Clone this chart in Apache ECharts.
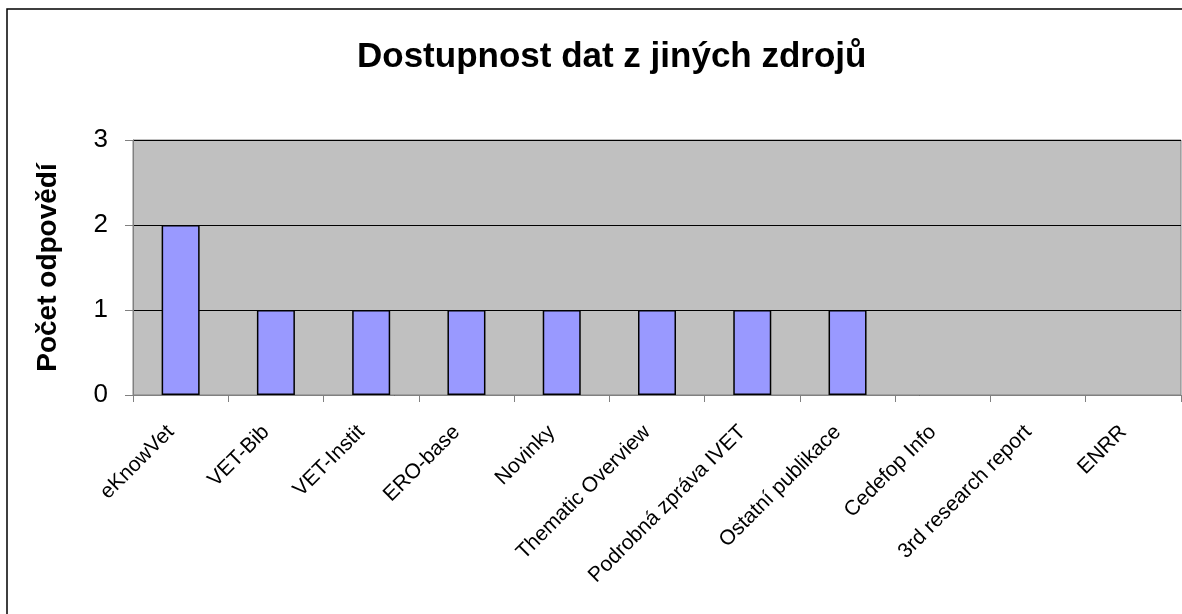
<!DOCTYPE html>
<html>
<head>
<meta charset="utf-8">
<script src="https://cdn.jsdelivr.net/npm/echarts@6/dist/echarts.min.js"></script>
<style>
  html, body { margin: 0; padding: 0; background: #fff; }
  #chart { width: 1182px; height: 614px; }
</style>
</head>
<body>
<div id="chart"></div>
<script>
var categories = ['eKnowVet', 'VET-Bib', 'VET-Instit', 'ERO-base', 'Novinky', 'Thematic Overview',
    'Podrobná zpráva IVET', 'Ostatní publikace', 'Cedefop Info', '3rd research report', 'ENRR'];
var counts = [2, 1, 1, 1, 1, 1, 1, 1, 0, 0, 0];
var yTicks = [0, 1, 2, 3];

var chart = echarts.init(document.getElementById('chart'));
var font = 'Liberation Sans, Arial, sans-serif';

// Excel draws nothing for zero values, so no outline on those
var barData = counts.map(function (v) {
    return v === 0 ? { value: v, itemStyle: { borderWidth: 0 } } : v;
});

var option = {
    animation: false,
    backgroundColor: '#fff',
    title: {
        text: 'Dostupnost dat z jiných zdrojů',
        left: 352,
        top: 35,
        textStyle: { fontFamily: font, fontSize: 35, fontWeight: 'bold', color: '#000' }
    },
    // outer chart frame, right and bottom edges fall outside the picture
    graphic: [{
        type: 'rect',
        shape: { x: 7, y: 9, width: 1300, height: 800 },
        style: { fill: 'none', stroke: '#000', lineWidth: 1.5 },
        silent: true
    }],
    grid: {
        left: 133, right: 1, top: 140, bottom: 219,
        show: true,
        backgroundColor: '#c0c0c0',
        borderColor: '#808080',
        borderWidth: 1
    },
    xAxis: {
        type: 'category',
        data: categories,
        axisLine: { lineStyle: { color: '#808080', width: 1 } },
        axisTick: { show: true, length: 7, lineStyle: { color: '#808080' } },
        axisLabel: {
            rotate: 45,
            interval: 0,
            margin: 24,
            padding: [0, 14, 0, 0],
            fontFamily: font,
            fontSize: 21,
            color: '#000'
        }
    },
    yAxis: {
        type: 'value',
        min: yTicks[0],
        max: yTicks[yTicks.length - 1],
        interval: 1,
        name: 'Počet odpovědí',
        nameLocation: 'middle',
        nameGap: 71,
        nameTextStyle: { fontFamily: font, fontSize: 28, fontWeight: 'bold', color: '#000' },
        axisLine: { show: true, lineStyle: { color: '#808080' } },
        axisTick: { show: true, length: 8, lineStyle: { color: '#808080' } },
        axisLabel: { margin: 25, fontFamily: font, fontSize: 26, color: '#000' },
        splitLine: { show: true, lineStyle: { color: '#000', width: 1 } }
    },
    series: [{
        type: 'bar',
        data: barData,
        barWidth: 38,
        itemStyle: { color: '#9999ff', borderColor: '#000', borderWidth: 1.5 }
    }]
};
chart.setOption(option);
</script>
</body>
</html>
